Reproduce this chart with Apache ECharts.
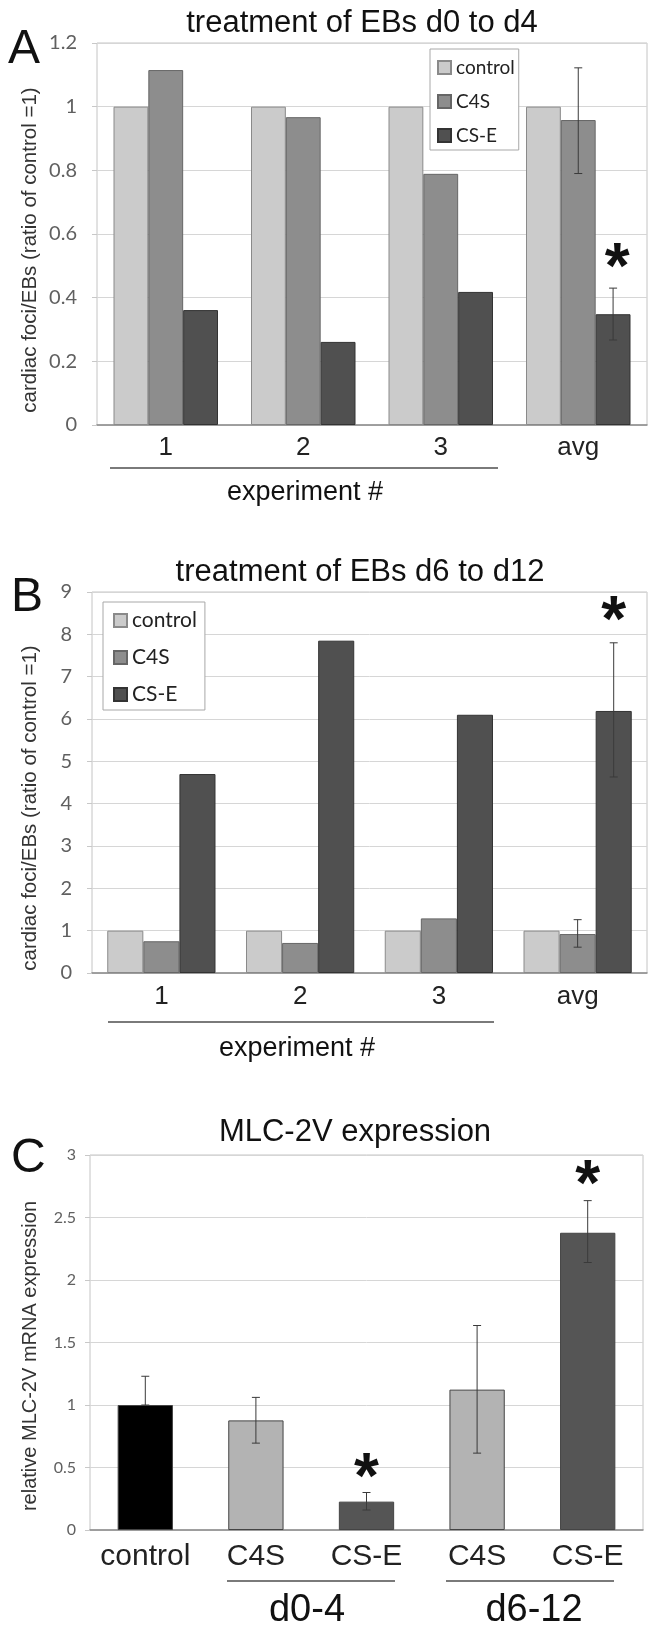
<!DOCTYPE html>
<html><head><meta charset="utf-8">
<script src="https://cdn.jsdelivr.net/npm/echarts@6/dist/echarts.min.js"></script>
<style>html,body{margin:0;padding:0;background:#fff}#c{width:658px;height:1635px}</style>
</head><body><div id="c"></div>
<script>
// ---------- Panel A : treatment of EBs d0 to d4 ----------
const aCats = ['1', '2', '3', 'avg'];
const aControl = [1, 1, 1, 1];
const aC4S = [1.115, 0.967, 0.789, 0.958];
const aCSE = [0.361, 0.261, 0.418, 0.348];
const aC4SErr = [null, null, null, [0.79, 1.122]];
const aCSEErr = [null, null, null, [0.267, 0.43]];
const aStar = [null, null, null, 0.53];

// ---------- Panel B : treatment of EBs d6 to d12 ----------
const bCats = ['1', '2', '3', 'avg'];
const bControl = [1, 1, 1, 1];
const bC4S = [0.75, 0.71, 1.29, 0.92];
const bCSE = [4.70, 7.85, 6.10, 6.19];
const bC4SErr = [null, null, null, [0.61, 1.26]];
const bCSEErr = [null, null, null, [4.63, 7.80]];
const bStar = [null, null, null, 8.58];

// ---------- Panel C : MLC-2V expression ----------
const cCats = ['control', 'C4S', 'CS-E', 'C4S', 'CS-E'];
const cValues = [1.0, 0.877, 0.227, 1.123, 2.378];
const cErrLow = [1.0, 0.695, 0.16, 0.615, 2.14];
const cErrHigh = [1.23, 1.061, 0.30, 1.636, 2.635];
const cStar = [null, null, 0.51, null, 2.85];
const cGroups = ['d0-4', 'd6-12'];

const seriesNames = ['control', 'C4S', 'CS-E'];
const abColors = ['#cbcbcb', '#8d8d8d', '#505050'];
const abBorders = ['#8a8a8a', '#666666', '#333333'];
const cColors = ['#000000', '#b3b3b3', '#555555', '#b3b3b3', '#555555'];

const FONT = 'Liberation Sans, Arial, sans-serif';
const LFONT = 'Lato, sans-serif';

function errData(errs, k) {
  const out = [];
  errs.forEach((e, i) => { if (e) out.push([i, e[0], e[1], k]); });
  return out;
}
function starData(stars, k) {
  const out = [];
  stars.forEach((s, i) => { if (s != null) out.push([i, s, k]); });
  return out;
}
function errRender(gap, n) {
  return function (params, api) {
    const x = api.value(0), lo = api.value(1), hi = api.value(2), k = api.value(3);
    const band = api.size([1, 0])[0];
    const bw = n > 1 ? band * (1 - gap) / n : 0;
    const pLo = api.coord([x, lo]), pHi = api.coord([x, hi]);
    const cx = pLo[0] + (k - (n - 1) / 2) * bw;
    const cap = 4;
    const st = { stroke: '#3a3a3a', lineWidth: 1 };
    return { type: 'group', children: [
      { type: 'line', shape: { x1: cx, y1: pLo[1], x2: cx, y2: pHi[1] }, style: st },
      { type: 'line', shape: { x1: cx - cap, y1: pHi[1], x2: cx + cap, y2: pHi[1] }, style: st },
      { type: 'line', shape: { x1: cx - cap, y1: pLo[1], x2: cx + cap, y2: pLo[1] }, style: st }
    ]};
  };
}
function starRender(gap, n, dx) {
  return function (params, api) {
    const x = api.value(0), v = api.value(1), k = api.value(2);
    const band = api.size([1, 0])[0];
    const bw = n > 1 ? band * (1 - gap) / n : 0;
    const p = api.coord([x, v]);
    const cx = p[0] + (k - (n - 1) / 2) * bw + (dx || 0);
    return { type: 'text', style: { text: '*', x: cx, y: p[1] + 14, textAlign: 'center',
      textVerticalAlign: 'middle', font: 'bold 64px Liberation Sans', fill: '#111' } };
  };
}

const grids = [
  { left: 97, top: 43, width: 550, height: 382 },
  { left: 92, top: 592, width: 555, height: 381 },
  { left: 90, top: 1155, width: 553, height: 375 }
];
grids.forEach(g => { g.show = true; g.borderColor = '#c4c4c4'; g.borderWidth = 1; g.backgroundColor = 'transparent'; });

function xAxis(idx, cats, fs, margin) {
  return { type: 'category', gridIndex: idx, data: cats,
    axisLine: { show: true, lineStyle: { color: '#8a8a8a', width: 1.5 } },
    axisTick: { show: false },
    axisLabel: { fontSize: fs, fontFamily: FONT, color: '#222', margin: margin, interval: 0 },
    splitLine: { show: false } };
}
function yAxis(idx, max, interval, fs, margin) {
  return { type: 'value', gridIndex: idx, min: 0, max: max, interval: interval,
    axisLine: { show: false },
    axisTick: { show: true, length: 5, lineStyle: { color: '#c8c8c8' } },
    axisLabel: { fontSize: fs, fontFamily: LFONT, color: '#606060', margin: margin },
    splitLine: { show: true, lineStyle: { color: '#d6d6d6', width: 1 } } };
}

const series = [];
const gapA = 0.24, gapB = 0.22;
[[aControl, aC4S, aCSE], [bControl, bC4S, bCSE]].forEach((vals, gi) => {
  vals.forEach((v, k) => {
    series.push({ type: 'bar', name: seriesNames[k], xAxisIndex: gi, yAxisIndex: gi, data: v,
      barGap: '0%', barCategoryGap: (gi === 0 ? gapA : gapB) * 100 + '%',
      itemStyle: { color: abColors[k], borderColor: abBorders[k], borderWidth: 1 },
      emphasis: { disabled: true } });
  });
});
series.push({ type: 'bar', name: 'mlc', xAxisIndex: 2, yAxisIndex: 2, barWidth: '50%',
  data: cValues.map((v, i) => ({ value: v, itemStyle: { color: cColors[i] } })),
  itemStyle: { borderColor: '#444', borderWidth: 1 }, emphasis: { disabled: true } });

series.push({ type: 'custom', xAxisIndex: 0, yAxisIndex: 0, z: 5, renderItem: errRender(gapA, 3),
  data: errData(aC4SErr, 1).concat(errData(aCSEErr, 2)) });
series.push({ type: 'custom', xAxisIndex: 1, yAxisIndex: 1, z: 5, renderItem: errRender(gapB, 3),
  data: errData(bC4SErr, 1).concat(errData(bCSEErr, 2)) });
series.push({ type: 'custom', xAxisIndex: 2, yAxisIndex: 2, z: 5, renderItem: errRender(0.5, 1),
  data: cValues.map((v, i) => [i, cErrLow[i], cErrHigh[i], 0]) });
series.push({ type: 'custom', xAxisIndex: 0, yAxisIndex: 0, z: 6, renderItem: starRender(gapA, 3, 4),
  data: starData(aStar, 2) });
series.push({ type: 'custom', xAxisIndex: 1, yAxisIndex: 1, z: 6, renderItem: starRender(gapB, 3, 0),
  data: starData(bStar, 2) });
series.push({ type: 'custom', xAxisIndex: 2, yAxisIndex: 2, z: 6, renderItem: starRender(0.5, 1, 0),
  data: starData(cStar, 0) });

function txt(text, x, y, font, opts) {
  opts = opts || {};
  return { type: 'text', x: x, y: y, rotation: opts.rot || 0, z: 10,
    style: { text: text, x: 0, y: 0, font: font, fill: opts.fill || '#111',
      textAlign: opts.align || 'center', textVerticalAlign: 'middle' } };
}
function hline(x1, x2, y) {
  return { type: 'line', z: 10, shape: { x1: x1, y1: y, x2: x2, y2: y }, style: { stroke: '#7a7a7a', lineWidth: 2 } };
}
const yName = 'cardiac foci/EBs (ratio of control =1)';
const graphic = [
  txt('treatment of EBs d0 to d4', 362, 23, '31px ' + FONT),
  txt('treatment of EBs d6 to d12', 360, 572, '31px ' + FONT),
  txt('MLC-2V expression', 355, 1132, '31px ' + FONT),
  txt('A', 8, 50, '48px ' + FONT, { align: 'left' }),
  txt('B', 11, 598, '48px ' + FONT, { align: 'left' }),
  txt('C', 11, 1159, '48px ' + FONT, { align: 'left' }),
  txt(yName, 30, 250, '20.5px ' + FONT, { rot: Math.PI / 2, fill: '#333' }),
  txt(yName, 30, 808, '20.5px ' + FONT, { rot: Math.PI / 2, fill: '#333' }),
  txt('relative MLC-2V mRNA expression', 30, 1356, '20px ' + FONT, { rot: Math.PI / 2, fill: '#333' }),
  hline(110, 498, 468),
  txt('experiment #', 305, 493, '27px ' + FONT),
  hline(108, 494, 1022),
  txt('experiment #', 297, 1049, '27px ' + FONT),
  hline(227, 395, 1581),
  hline(446, 614, 1581),
  txt(cGroups[0], 307, 1611, '38px ' + FONT),
  txt(cGroups[1], 534, 1611, '38px ' + FONT)
];

const legendBase = { orient: 'vertical', data: seriesNames, icon: 'rect', selectedMode: false,
  itemWidth: 13, itemHeight: 13, borderColor: '#a8a8a8', borderWidth: 1, backgroundColor: '#fff' };

const option = {
  animation: false,
  backgroundColor: '#fff',
  grid: grids,
  xAxis: [xAxis(0, aCats, 26, 10), xAxis(1, bCats, 26, 11), xAxis(2, cCats, 30, 12)],
  yAxis: [yAxis(0, 1.2, 0.2, 20, 20), yAxis(1, 9, 1, 20, 20), yAxis(2, 3, 0.5, 16, 14)],
  legend: [
    Object.assign({}, legendBase, { left: 430, top: 49, itemGap: 15, padding: [9, 4, 5, 7],
      textStyle: { fontFamily: LFONT, fontSize: 19, color: '#222' } }),
    Object.assign({}, legendBase, { left: 103, top: 602, itemGap: 16, padding: [8, 8, 5, 10],
      textStyle: { fontFamily: LFONT, fontSize: 21, color: '#222' } })
  ],
  series: series,
  graphic: graphic
};
const chart = echarts.init(document.getElementById('c'), null, { renderer: 'canvas' });
chart.setOption(option);
</script></body></html>
